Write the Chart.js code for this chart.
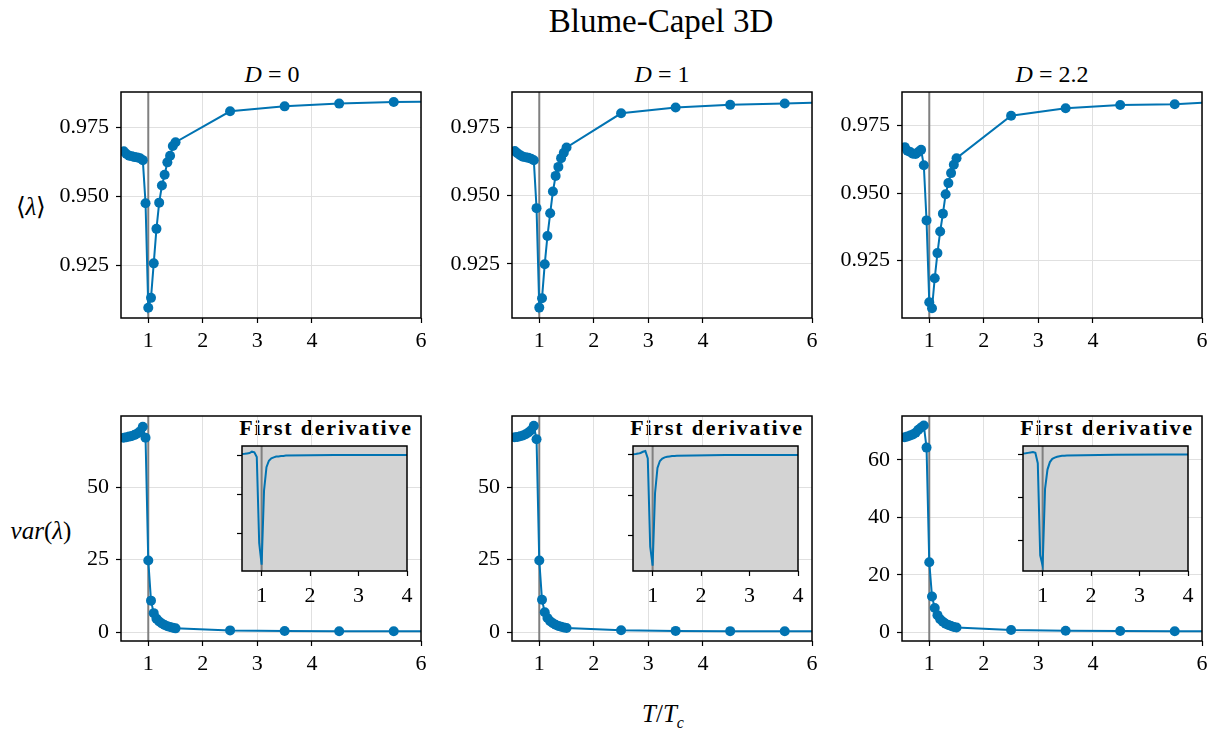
<!DOCTYPE html>
<html><head><meta charset="utf-8">
<script src="https://cdn.jsdelivr.net/npm/chart.js@4.4.0/dist/chart.umd.min.js"></script>
<style>
body{margin:0;width:1218px;height:729px;background:#fff;position:relative;overflow:hidden;font-family:"Liberation Serif",serif;color:#000;font-variant-ligatures:none}
canvas{position:absolute}
.t{position:absolute;white-space:nowrap;line-height:1;transform:translate(-50%,-50%)}
.sup{font-size:33px}
.sub{font-size:24px}
.lab{font-size:25px}
.ins{font-size:22px;font-weight:bold;letter-spacing:1.8px;font-variant-ligatures:none;font-kerning:none;font-feature-settings:"liga" 0,"clig" 0,"kern" 0}
i{font-style:italic}
</style></head><body>
<div class="t sup" style="left:661px;top:21px">Blume-Capel 3D</div>
<div class="t sub" style="left:272px;top:74px"><i>D</i> = 0</div>
<div class="t sub" style="left:662px;top:74px"><i>D</i> = 1</div>
<div class="t sub" style="left:1052px;top:74px"><i>D</i> = 2.2</div>
<div class="t lab" style="left:31px;top:206px">&#10216;<i>λ</i>&#10217;</div>
<div class="t lab" style="left:41px;top:530px"><i>var</i>(<i>λ</i>)</div>
<div class="t lab" style="left:663px;top:716px"><i>T</i>/<i>T</i><sub style="font-size:16px"><i>c</i></sub></div>
<div class="t ins" style="left:326px;top:428px"><span>F</span><span>irst</span> derivative</div>
<div class="t ins" style="left:717px;top:428px"><span>F</span><span>irst</span> derivative</div>
<div class="t ins" style="left:1107px;top:428px"><span>F</span><span>irst</span> derivative</div>
<script>
// ---------- data ----------
const T_OVER_TC = [0.55,0.6,0.65,0.7,0.75,0.8,0.85,0.9,0.95,1.0,1.05,1.1,1.15,1.2,1.25,1.3,1.35,1.4,1.45,1.5,2.5,3.5,4.5,5.5,6.5];

const LAMBDA_D0  = [0.9662,0.9652,0.9646,0.9644,0.9641,0.9640,0.9637,0.9630,0.9474,0.9095,0.9131,0.9256,0.9381,0.9476,0.9538,0.9577,0.9622,0.9646,0.9681,0.9695,0.9807,0.9825,0.9835,0.9841,0.9843];
const LAMBDA_D1  = [0.9663,0.9655,0.9648,0.9642,0.9640,0.9638,0.9635,0.9629,0.9454,0.9090,0.9124,0.9249,0.9352,0.9435,0.9515,0.9572,0.9605,0.9637,0.9657,0.9676,0.9801,0.9822,0.9832,0.9837,0.9843];
const LAMBDA_D22 = [0.9670,0.9657,0.9652,0.9646,0.9645,0.9652,0.9660,0.9603,0.9399,0.9096,0.9074,0.9185,0.9278,0.9358,0.9424,0.9496,0.9537,0.9574,0.9605,0.9629,0.9786,0.9814,0.9826,0.9829,0.9839];

const VAR_D0  = [67.0,67.2,67.4,67.6,68.0,68.5,69.2,70.8,67.0,24.7,10.9,6.6,4.7,3.7,3.0,2.5,2.1,1.8,1.55,1.35,0.65,0.45,0.38,0.34,0.32];
const VAR_D1  = [67.2,67.3,67.5,67.8,68.2,68.8,69.6,71.1,66.5,24.7,11.2,6.9,4.9,3.8,3.1,2.6,2.2,1.9,1.65,1.45,0.70,0.48,0.40,0.36,0.33];
const VAR_D22 = [67.9,68.2,68.5,68.9,69.5,70.5,71.3,72.0,64.3,24.4,12.5,8.5,6.0,4.6,3.7,3.0,2.6,2.2,1.9,1.7,0.80,0.55,0.45,0.40,0.38];

const DERIV_D0  = [6,5,6,8,10,17,14,-10,-450,-560,-180,-62,-29,-17,-12,-8,-7,-5.5,-4.5,-3,-0.4,-0.15,-0.05,-0.03,-0.02];
const DERIV_D1  = [5,4,5,7,10,16,20,-17,-458,-553,-190,-65,-30,-18,-12,-9,-7,-5.5,-4.5,-3.2,-0.4,-0.15,-0.05,-0.03,-0.02];
const DERIV_D22 = [4,5,6,8,10,12,8,-40,-470,-518,-160,-70,-35,-20,-14,-10,-8,-6,-5,-4,-0.5,-0.2,-0.08,-0.04,-0.03];

const X_TICKS = [1,2,3,4,6];
const INSET_X_TICKS = [1,2,3,4];
const LAMBDA_TICKS = [0.925,0.950,0.975];
const VAR_TICKS_D0 = [0,25,50];
const VAR_TICKS_D1 = [0,25,50];
const VAR_TICKS_D22 = [0,20,40,60];
const DERIV_TICKS = [0,-200,-400];
const TC_LINE = 1;

// ---------- styling ----------
const BLUE = '#0173b2';
const GRAY = '#808080';
const GRID = '#e0e0e0';
const FONT = {family:'"Liberation Serif", serif', size:22};
Chart.defaults.font.family = FONT.family;
Chart.defaults.color = '#000';

const framePlugin = {
  id:'frame',
  beforeDraw(c, a, o){
    if(o.bg){const r=c.chartArea,x=c.ctx;x.save();x.fillStyle=o.bg;x.fillRect(r.left,r.top,r.width,r.height);x.restore();}
  },
  afterDraw(c){
    const r=c.chartArea,x=c.ctx;x.save();x.strokeStyle='#000';x.lineWidth=1.5;
    x.strokeRect(r.left,r.top,r.width,r.height);x.restore();
  }
};

function makeChart(rect, ys, cfg){
  const AXW = cfg.axw, PADT = 24, PADR = cfg.padr, AXH = cfg.axh;
  const cv = document.createElement('canvas');
  const W = rect.w + AXW + PADR, H = rect.h + PADT + AXH;
  cv.width = W; cv.height = H;
  cv.style.left = (rect.x - AXW) + 'px';
  cv.style.top = (rect.y - PADT) + 'px';
  cv.style.width = W + 'px'; cv.style.height = H + 'px';
  document.body.appendChild(cv);
  const pts = T_OVER_TC.map((x,i)=>({x:x, y:ys[i]}));
  new Chart(cv, {
    type:'line',
    data:{datasets:[
      {data:pts, borderColor:BLUE, backgroundColor:BLUE, borderWidth:2, pointRadius:cfg.pr, pointHoverRadius:cfg.pr, pointBorderWidth:0, tension:0},
      {data:[{x:TC_LINE,y:-1e4},{x:TC_LINE,y:1e4}], borderColor:GRAY, borderWidth:2, pointRadius:0}
    ]},
    options:{
      responsive:false, animation:false, devicePixelRatio:1, events:[],
      layout:{padding:{top:PADT,right:PADR,left:0,bottom:0}},
      plugins:{legend:{display:false},tooltip:{enabled:false},title:{display:false}, frame:{bg:cfg.bg}},
      scales:{
        x:{type:'linear', min:cfg.xmin, max:cfg.xmax,
           afterBuildTicks:s=>{s.ticks=cfg.xt.map(v=>({value:v}));},
           afterFit:s=>{s.height=AXH;},
           grid:{color:GRID, lineWidth:1, drawOnChartArea:cfg.grid, drawTicks:true, tickLength:5, tickColor:'#000', tickWidth:1.2},
           border:{display:false},
           ticks:{autoSkip:false, maxRotation:0, minRotation:0, font:FONT, color:'#000', padding:cfg.xpad, callback:v=>String(v)}},
        y:{type:'linear', min:cfg.ymin, max:cfg.ymax,
           afterBuildTicks:s=>{s.ticks=cfg.yt.map(v=>({value:v}));},
           afterFit:s=>{s.width=AXW;},
           grid:{color:GRID, lineWidth:1, drawOnChartArea:cfg.grid, drawTicks:true, tickLength:5, tickColor:'#000', tickWidth:1.2},
           border:{display:false},
           ticks:{display:cfg.ylabels, autoSkip:false, font:FONT, color:'#000', padding:7, callback:cfg.yfmt}}
      }
    },
    plugins:[framePlugin]
  });
}

const COLS = [121, 512, 902];
const PW = 300;
const TOP = {y:92, h:226};
const BOT = {y:416, h:225};
const lambdaSeries = [LAMBDA_D0, LAMBDA_D1, LAMBDA_D22];
const lambdaRange = [[0.9058,0.9877],[0.9052,0.9879],[0.9038,0.9874]];
const varSeries = [VAR_D0, VAR_D1, VAR_D22];
const varTicks = [VAR_TICKS_D0, VAR_TICKS_D1, VAR_TICKS_D22];
const varRange = [[-3.0,74.5],[-3.0,74.5],[-3.0,75.3]];
const derivSeries = [DERIV_D0, DERIV_D1, DERIV_D22];
const derivRange = [[-592,46],[-580,45],[-543,40]];

for(let i=0;i<3;i++){
  const base = {axw:90, padr:22, axh:45, pr:5, xmin:0.5, xmax:6, xt:X_TICKS, grid:true, ylabels:true, xpad:5, bg:null};
  makeChart({x:COLS[i], y:TOP.y, w:PW, h:TOP.h}, lambdaSeries[i],
    Object.assign({}, base, {ymin:lambdaRange[i][0], ymax:lambdaRange[i][1], yt:LAMBDA_TICKS, yfmt:v=>v.toFixed(3)}));
  makeChart({x:COLS[i], y:BOT.y, w:PW, h:BOT.h}, varSeries[i],
    Object.assign({}, base, {ymin:varRange[i][0], ymax:varRange[i][1], yt:varTicks[i], yfmt:v=>String(v)}));
  makeChart({x:COLS[i]+121, y:BOT.y+30, w:165, h:125}, derivSeries[i],
    {axw:20, padr:16, axh:45, pr:0, xmin:0.595, xmax:4, xt:INSET_X_TICKS, grid:false, ylabels:false, xpad:7, bg:'#d3d3d3',
     ymin:derivRange[i][0], ymax:derivRange[i][1], yt:DERIV_TICKS, yfmt:()=>''});
}
</script>
</body></html>
